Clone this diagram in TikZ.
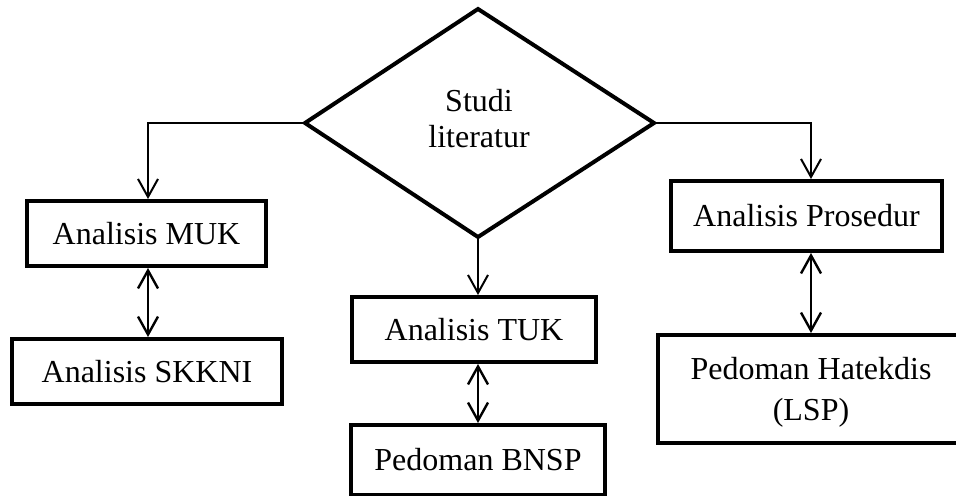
\documentclass[tikz,border=0pt]{standalone}
\usepackage{fontspec}
\setmainfont{Liberation Serif}
\usetikzlibrary{arrows.meta}
\begin{document}
\begin{tikzpicture}[x=0.5pt,y=-0.5pt,
  box/.style={draw,line width=2pt,inner sep=0pt,align=center,font=\fontsize{16}{18.5}\selectfont},
  lbl/.style={inner sep=0pt,align=center,font=\fontsize{16}{18}\selectfont},
  tip/.style={-{Straight Barb[length=9pt,width=10pt,line width=1pt]}},
  con/.style={line width=1pt,tip},
  dbl/.style={line width=1.3pt,{Straight Barb[length=9pt,width=10pt,line width=1.2pt]}-{Straight Barb[length=9pt,width=10pt,line width=1.2pt]}}
]
\useasboundingbox (0,0) rectangle (956,496);
% diamond
\coordinate (dl) at (305,123);
\coordinate (dt) at (478,9);
\coordinate (dr) at (654,123);
\coordinate (db) at (478,237);
\draw[line width=2pt,line join=miter] (dl) -- (dt) -- (dr) -- (db) -- cycle;
\node[lbl] (studi) at (479,119) {Studi\\literatur};
% boxes
\node[box,minimum width=239pt*0.5,minimum height=65pt*0.5] (muk) at (146.5,233.5) {Analisis MUK};
\node[box,minimum width=270pt*0.5,minimum height=65pt*0.5] (skkni) at (147,371.5) {Analisis SKKNI};
\node[box,minimum width=271pt*0.5,minimum height=70pt*0.5] (pros) at (806.5,216) {Analisis Prosedur};
\node[box,minimum width=340pt*0.5,minimum height=108pt*0.5] (hat) at (828,389) {};
\node[lbl,font=\fontsize{16}{20.5}\selectfont] (hattxt) at (811,392) {Pedoman Hatekdis\\(LSP)};
\node[box,minimum width=244pt*0.5,minimum height=65pt*0.5] (tuk) at (474,329.5) {Analisis TUK};
\node[box,minimum width=254pt*0.5,minimum height=70pt*0.5] (bnsp) at (478,460) {Pedoman BNSP};
% connectors
\draw[con] (dl) -| (muk.north -| 148,0);
\draw[con] (dr) -| (pros.north -| 811,0);
\draw[con] (db) -- (db |- tuk.north);
\draw[dbl] (148,0 |- muk.south) -- (148,0 |- skkni.north);
\draw[dbl] (811,0 |- pros.south) -- (811,0 |- hat.north);
\draw[dbl] (478,0 |- tuk.south) -- (478,0 |- bnsp.north);
\end{tikzpicture}
\end{document}
